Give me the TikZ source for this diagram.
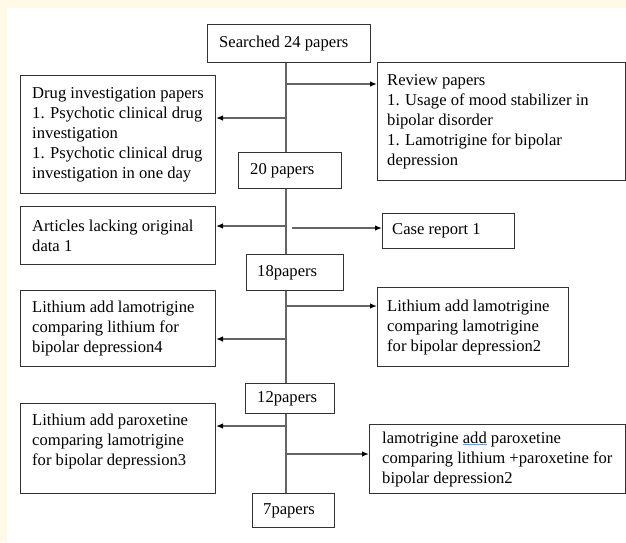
\documentclass[tikz,border=0pt]{standalone}
\usepackage{fontspec}
\setmainfont{Liberation Serif}
\usetikzlibrary{arrows.meta,calc}
\definecolor{cream}{RGB}{255,250,230}
\definecolor{boxline}{RGB}{50,50,50}
\definecolor{conngray}{RGB}{100,100,100}
\definecolor{ulblue}{RGB}{110,150,220}
\begin{document}
\begin{tikzpicture}[x=1pt,y=-1pt,
  box/.style={draw=boxline, line width=1pt, rectangle, inner sep=0pt, anchor=north west},
  txt/.style={align=left, inner sep=0pt, font=\rmfamily\fontsize{16.6}{20}\selectfont, anchor=west, text=black},
  trunk/.style={draw=conngray, line width=1.3pt},
  arr/.style={draw=conngray, line width=1.3pt, -{Latex[length=7pt,width=5.5pt,color=black]}}]
\useasboundingbox (0,0) rectangle (626,542);
\fill[cream] (0,0) rectangle (626,542);
\fill[white] (7,8) rectangle (626,542);

% boxes
\node[box, minimum width=163pt, minimum height=38pt] (s24) at (207,24) {};
\node[box, minimum width=195pt, minimum height=118pt] (drug) at (20,75) {};
\node[box, minimum width=248pt, minimum height=118pt] (review) at (377,62) {};
\node[box, minimum width=103pt, minimum height=36pt] (p20) at (238,152) {};
\node[box, minimum width=195pt, minimum height=58pt] (art) at (20,206) {};
\node[box, minimum width=132pt, minimum height=35pt] (case) at (382,213) {};
\node[box, minimum width=97pt, minimum height=36pt] (p18) at (246,254) {};
\node[box, minimum width=195pt, minimum height=76pt] (li4) at (20,290) {};
\node[box, minimum width=191pt, minimum height=79pt] (li2) at (377,287) {};
\node[box, minimum width=89pt, minimum height=30pt] (p12) at (245,383) {};
\node[box, minimum width=195pt, minimum height=90pt] (li3) at (20,403) {};
\node[box, minimum width=256pt, minimum height=69pt] (lam) at (369,424) {};
\node[box, minimum width=82pt, minimum height=34pt] (p7) at (252,493) {};

% texts
\node[txt] (s24t) at ($(s24.west)+(12,0)$) {Searched 24 papers};
\node[txt] (drugt) at ($(drug.west)+(12,0)$) {Drug investigation papers\\1. Psychotic clinical drug\\investigation\\1. Psychotic clinical drug\\investigation in one day};
\node[txt] (reviewt) at ($(review.west)+(10,0)$) {Review papers\\1. Usage of mood stabilizer in\\bipolar disorder\\1. Lamotrigine for bipolar\\depression};
\node[txt] (p20t) at ($(p20.west)+(12,0)$) {20 papers};
\node[txt] (artt) at ($(art.west)+(12,0)$) {Articles lacking original\\data 1};
\node[txt] (caset) at ($(case.west)+(10,0)$) {Case report 1};
\node[txt] (p18t) at ($(p18.west)+(11,0)$) {18papers};
\node[txt] (li4t) at ($(li4.west)+(12,0)$) {Lithium add lamotrigine\\comparing lithium for\\bipolar depression4};
\node[txt] (li2t) at ($(li2.west)+(10,0)$) {Lithium add lamotrigine\\comparing lamotrigine\\for bipolar depression2};
\node[txt] (p12t) at ($(p12.west)+(12,0)$) {12papers};
\node[txt, anchor=north west] (li3t) at ($(li3.north west)+(12,11)$) {Lithium add paroxetine\\comparing lamotrigine\\for bipolar depression3};
\node[txt] (lamt) at ($(lam.west)+(13,0)$) {lamotrigine \textcolor{ulblue}{\underline{\textcolor{black}{add}}} paroxetine\\comparing lithium +paroxetine for\\bipolar depression2};
\node[txt] (p7t) at ($(p7.west)+(11,0)$) {7papers};

% trunk
\coordinate (tx) at (286,0);
\draw[trunk] (s24.south -| tx) -- (p20.north -| tx);
\draw[trunk] (p20.south -| tx) -- (p18.north -| tx);
\draw[trunk] (p18.south -| tx) -- (p12.north -| tx);
\draw[trunk] (p12.south -| tx) -- (p7.north -| tx);

% branches
\coordinate (b1) at (286,84);
\coordinate (b2) at (286,118);
\coordinate (b3) at (286,226);
\coordinate (b4) at (292,228);
\coordinate (b5) at (286,306);
\coordinate (b6) at (286,339);
\coordinate (b7) at (286,426);
\coordinate (b8) at (286,454);
\draw[arr] (b1) -- (b1 -| review.west);
\draw[arr] (b2) -- (b2 -| drug.east);
\draw[arr] (b3) -- (b3 -| art.east);
\draw[arr] (b4) -- (b4 -| case.west);
\draw[arr] (b5) -- (b5 -| li2.west);
\draw[arr] (b6) -- (b6 -| li4.east);
\draw[arr] (b7) -- (b7 -| li3.east);
\draw[arr] (b8) -- (b8 -| lam.west);
\end{tikzpicture}
\end{document}
